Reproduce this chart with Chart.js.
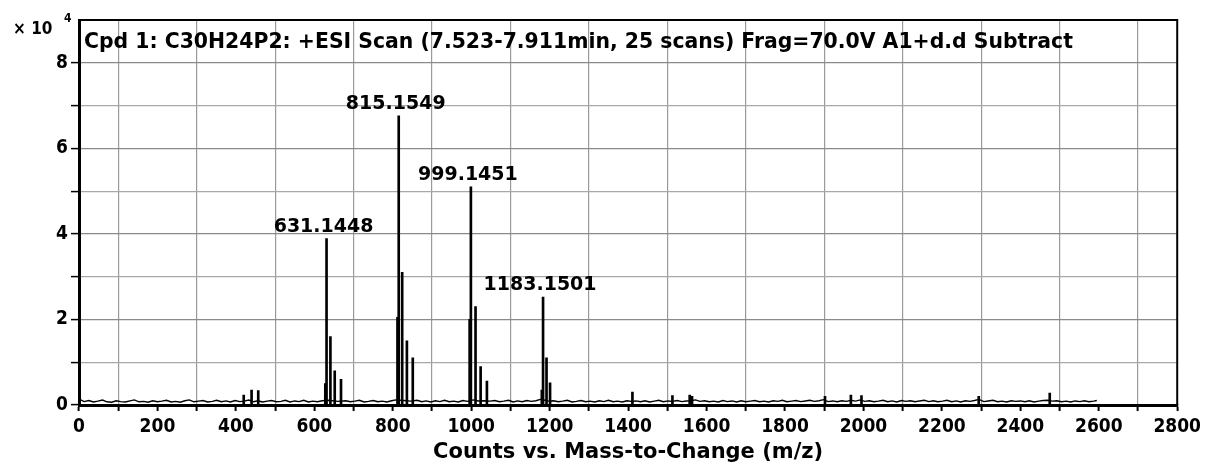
<!DOCTYPE html>
<html lang="en">
<head>
<meta charset="UTF-8">
<title>Cpd 1: C30H24P2 +ESI Scan</title>
<script src="https://cdn.jsdelivr.net/npm/chart.js"></script>
<style>
  html, body { margin: 0; padding: 0; background: #fff; }
</style>
</head>
<body>
<canvas id="spectrumChart" width="1206" height="465"></canvas>
<script>
    const FONT = '"DejaVu Sans Condensed", "DejaVu Sans", sans-serif';
    const WIDE_FONT = '"DejaVu Sans", sans-serif';

    const scanTitle = 'Cpd 1: C30H24P2: +ESI Scan (7.523-7.911min, 25 scans) Frag=70.0V A1+d.d Subtract';
    const xTitle = 'Counts vs. Mass-to-Change (m/z)';

    // centroid peaks: m/z and counts
    const peakMz = [420, 440, 457,
        628, 631.1448, 641, 652, 668,
        812, 815.1549, 824, 836, 851,
        996, 999.1451, 1011, 1024, 1040,
        1180, 1183.1501, 1192, 1201,
        1411, 1513, 1557, 1563, 1902, 1968, 1995, 2294, 2475];
    const peakCounts = [2300, 3500, 3400,
        5000, 38900, 16000, 8000, 6000,
        20500, 67600, 31000, 15000, 11000,
        20000, 51000, 23000, 9000, 5600,
        3500, 25200, 11000, 5200,
        3000, 2200, 2300, 2000, 2000, 2300, 2200, 2000, 2800];

    // peaks that get an m/z annotation
    const labelledMz = [631.1448, 815.1549, 999.1451, 1183.1501];

    // baseline noise trace [m/z, counts]
    const baselineNoise = [
        [2,1300],[13,800],[25,1050],[37,700],[48,900],[60,1150],[71,750],[83,650],[95,1000],[106,800],
        [118,700],[130,950],[141,1200],[153,750],[165,850],[176,650],[188,1000],[200,750],[211,900],[223,1100],
        [235,700],[246,850],[258,650],[270,1000],[281,1200],[293,750],[305,900],[316,1050],[328,700],[340,850],
        [351,1100],[363,750],[375,950],[386,700],[398,1050],[410,800],[421,900],[433,1150],[445,750],[456,1000],
        [468,700],[480,900],[491,1050],[503,750],[515,850],[526,1100],[538,700],[550,950],[561,800],[573,1100],
        [585,700],[596,900],[608,750],[620,1000],[636,1100],[660,850],[680,1000],[692,750],[703,900],[715,1100],
        [727,700],[738,850],[750,1050],[762,750],[773,900],[785,700],[797,1000],[808,1200],[828,1050],[845,900],
        [862,1100],[874,750],[885,950],[897,700],[909,1000],[920,800],[932,1100],[944,750],[955,900],[967,700],
        [979,1050],[990,850],[1005,1200],[1018,950],[1032,1000],[1048,900],[1060,1050],[1072,750],[1083,900],[1095,1100],
        [1107,700],[1118,950],[1130,750],[1142,1050],[1153,850],[1165,1000],[1176,1300],[1188,1100],[1197,900],[1210,1000],
        [1222,750],[1233,900],[1245,1100],[1257,700],[1268,850],[1280,1050],[1292,750],[1303,900],[1315,700],[1327,1000],
        [1338,800],[1350,1100],[1362,750],[1373,900],[1385,700],[1397,1000],[1408,850],[1420,950],[1432,750],[1443,1000],
        [1455,700],[1467,900],[1478,1100],[1490,750],[1502,950],[1513,850],[1525,1050],[1537,800],[1548,950],[1560,1000],
        [1572,1200],[1583,850],[1595,1000],[1607,750],[1618,900],[1630,700],[1642,1050],[1653,800],[1665,950],[1677,700],
        [1688,1000],[1700,750],[1712,900],[1723,1050],[1735,750],[1747,900],[1758,700],[1770,1000],[1782,850],[1793,1100],
        [1805,750],[1817,900],[1828,1050],[1840,800],[1852,950],[1863,1100],[1875,850],[1887,1000],[1898,1250],[1910,800],
        [1922,950],[1933,750],[1945,1000],[1957,850],[1968,1100],[1980,900],[1992,1200],[2003,850],[2015,1000],[2027,750],
        [2038,900],[2050,1100],[2062,750],[2073,950],[2085,700],[2097,1050],[2108,850],[2120,1000],[2132,750],[2143,950],
        [2155,1100],[2167,800],[2178,1000],[2190,750],[2202,900],[2213,1100],[2225,750],[2237,950],[2248,700],[2260,1000],
        [2272,850],[2283,1050],[2295,1300],[2307,800],[2318,950],[2330,1100],[2342,750],[2353,900],[2365,700],[2377,1000],
        [2388,850],[2400,950],[2412,750],[2423,1000],[2435,700],[2447,900],[2458,1050],[2470,1100],[2482,900],[2493,1000],
        [2505,750],[2517,900],[2528,700],[2540,950],[2552,800],[2563,1000],[2575,750],[2587,900],[2595,1050]
    ];

    // frame, in-plot title, peak labels and the x10^4 multiplier
    const spectrumDecor = {
        id: 'spectrumDecor',
        afterDatasetsDraw(chart) {
            const { ctx, chartArea, scales } = chart;
            ctx.save();
            ctx.strokeStyle = '#000';
            ctx.lineWidth = 2;
            ctx.beginPath();
            ctx.moveTo(chartArea.left, chartArea.top);
            ctx.lineTo(chartArea.right, chartArea.top);
            ctx.lineTo(chartArea.right, chartArea.bottom);
            ctx.stroke();

            ctx.fillStyle = '#000';
            ctx.font = 'bold 20.4px ' + WIDE_FONT;
            ctx.textAlign = 'left';
            ctx.textBaseline = 'alphabetic';
            ctx.fillText(scanTitle, chartArea.left + 5, chartArea.top + 28);

            ctx.font = 'bold 19px ' + WIDE_FONT;
            ctx.textAlign = 'center';
            labelledMz.forEach(mz => {
                const i = peakMz.indexOf(mz);
                const x = scales.x.getPixelForValue(mz) - 3;
                const y = scales.y.getPixelForValue(peakCounts[i]) - 7;
                ctx.fillText(mz.toFixed(4), x, y);
            });

            ctx.textAlign = 'left';
            ctx.font = 'bold 17px ' + FONT;
            ctx.fillText('\u00d7 10', 13, 34);
            ctx.font = 'bold 12px ' + FONT;
            ctx.fillText('4', 64, 22);
            ctx.restore();
        }
    };

    const tickFont = { family: FONT, size: 19, weight: 'bold' };

    new Chart(document.getElementById('spectrumChart'), {
        type: 'bar',
        data: {
            datasets: [
                {
                    type: 'line',
                    data: baselineNoise.map(([x, y]) => ({ x, y })),
                    borderColor: '#000',
                    borderWidth: 1.4,
                    pointRadius: 0,
                    tension: 0,
                    order: 2
                },
                {
                    type: 'bar',
                    data: peakMz.map((x, i) => ({ x, y: peakCounts[i] })),
                    backgroundColor: '#000',
                    barThickness: 2,
                    order: 1
                }
            ]
        },
        options: {
            responsive: false,
            animation: false,
            devicePixelRatio: 1,
            layout: { padding: { top: 20, right: 26, left: 0, bottom: 0 } },
            plugins: {
                legend: { display: false },
                tooltip: { enabled: false }
            },
            scales: {
                x: {
                    type: 'linear',
                    min: 0,
                    max: 2800,
                    offset: false,
                    grid: {
                        offset: false,
                        color: c => (c.tick && c.tick.value % 200 === 100) ? '#9a9a9a' : 'rgba(0,0,0,0)',
                        lineWidth: 1.2,
                        tickColor: '#000',
                        tickWidth: 2,
                        tickLength: 6
                    },
                    border: { color: '#000', width: 3 },
                    ticks: {
                        stepSize: 100,
                        autoSkip: false,
                        maxRotation: 0,
                        padding: 5,
                        color: '#000',
                        font: tickFont,
                        callback: v => (v % 200 === 0 ? String(v) : '')
                    },
                    title: {
                        display: true,
                        text: xTitle,
                        color: '#000',
                        font: { family: WIDE_FONT, size: 21, weight: 'bold' },
                        padding: { top: 0, bottom: 0 }
                    },
                    afterFit: s => { s.height = 60; }
                },
                y: {
                    min: 0,
                    max: 90000,
                    grid: {
                        color: c => {
                            const v = c.tick ? c.tick.value : 0;
                            if (v === 0 || v === 90000) return 'rgba(0,0,0,0)';
                            return v % 20000 === 0 ? '#8a8a8a' : '#a8a8a8';
                        },
                        lineWidth: 1.2,
                        tickColor: c => (c.tick && c.tick.value === 90000) ? 'rgba(0,0,0,0)' : '#000',
                        tickWidth: 1.5,
                        tickLength: 8
                    },
                    border: { color: '#000', width: 3 },
                    ticks: {
                        stepSize: 10000,
                        padding: 3,
                        color: '#000',
                        font: tickFont,
                        callback: v => (v % 20000 === 0 && v < 90000 ? String(v / 10000) : '')
                    },
                    afterFit: s => { s.width = 79; }
                }
            }
        },
        plugins: [spectrumDecor]
    });
</script>
</body>
</html>
